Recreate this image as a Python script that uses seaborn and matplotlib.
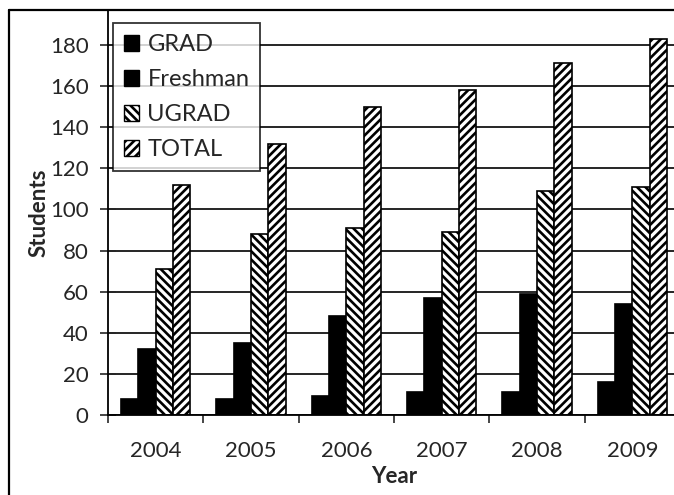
import matplotlib
matplotlib.use('Agg')
import matplotlib.pyplot as plt
import matplotlib.lines as mlines
from matplotlib.patches import Patch
import pandas as pd
import seaborn as sns

# Data
years = ['2004', '2005', '2006', '2007', '2008', '2009']
grad = [8, 8, 9, 11, 11, 16]
freshman = [32, 35, 48, 57, 59, 54]
ugrad = [71, 88, 91, 89, 109, 111]
total = [112, 132, 150, 158, 171, 183]
groups = ['GRAD', 'Freshman', 'UGRAD', 'TOTAL']

df = pd.DataFrame({'Year': years, 'GRAD': grad, 'Freshman': freshman,
                   'UGRAD': ugrad, 'TOTAL': total})
df = df.melt(id_vars='Year', var_name='Group', value_name='Students')

sns.set_style('white')
plt.rcParams['font.family'] = ['Lato', 'DejaVu Sans']
plt.rcParams['hatch.linewidth'] = 1.9
plt.rcParams['hatch.color'] = 'black'

fills = {'GRAD': 'black', 'Freshman': 'black', 'UGRAD': 'white', 'TOTAL': 'white'}
hatches = {'GRAD': '', 'Freshman': '', 'UGRAD': '\\\\\\\\', 'TOTAL': '////'}

fs = 16

fig = plt.figure(figsize=(6.74, 4.95), dpi=100)
ax = fig.add_axes([108 / 674, 1 - 415 / 495, 572 / 674, 405 / 495])

sns.barplot(data=df, x='Year', y='Students', hue='Group', hue_order=groups,
            palette=fills, width=0.73, edgecolor='black', linewidth=1.2,
            saturation=1, ax=ax, legend=False)

for cont, g in zip(ax.containers, groups):
    for bar in cont:
        bar.set_hatch(hatches[g])

ax.set_xlim(-0.5, 5.5)
ax.set_ylim(0, 197)
ax.set_yticks(range(0, 181, 20))
ax.yaxis.grid(True, color='black', linewidth=1.2)
ax.set_axisbelow(True)

for s in ['left', 'bottom', 'top']:
    ax.spines[s].set_visible(True)
    ax.spines[s].set_color('black')
    ax.spines[s].set_linewidth(1.3)
ax.spines['right'].set_visible(False)

ax.tick_params(axis='y', direction='inout', length=12, width=1.2,
               labelsize=fs, pad=8, left=True)
ax.tick_params(axis='x', which='major', length=0, labelsize=fs, pad=19)
ax.set_xticks([i - 0.5 for i in range(7)], minor=True)
ax.tick_params(axis='x', which='minor', direction='out', length=6, width=1.2,
               bottom=True)

ax.set_xlabel('Year', fontsize=fs, fontweight='bold', labelpad=3)
ax.set_ylabel('Students', fontsize=fs, fontweight='bold', labelpad=0)

handles = [Patch(facecolor=fills[g], edgecolor='black', hatch=hatches[g],
                 linewidth=1.0) for g in groups]
leg = ax.legend(handles, groups, loc='upper left', bbox_to_anchor=(0.009, 0.967),
                fontsize=17, frameon=True, fancybox=False, handlelength=0.65,
                handleheight=0.65, handletextpad=0.35, labelspacing=0.6,
                borderpad=0.45, borderaxespad=0)
leg.get_frame().set_edgecolor('black')
leg.get_frame().set_linewidth(1.3)

# outer chart border (top and left visible in the scan)
fig.add_artist(mlines.Line2D([9 / 674, 1], [1 - 10 / 495, 1 - 10 / 495],
                             color='black', linewidth=1.6, transform=fig.transFigure))
fig.add_artist(mlines.Line2D([9 / 674, 9 / 674], [0, 1 - 10 / 495],
                             color='black', linewidth=1.6, transform=fig.transFigure))

fig.savefig('out.png', dpi=100)
